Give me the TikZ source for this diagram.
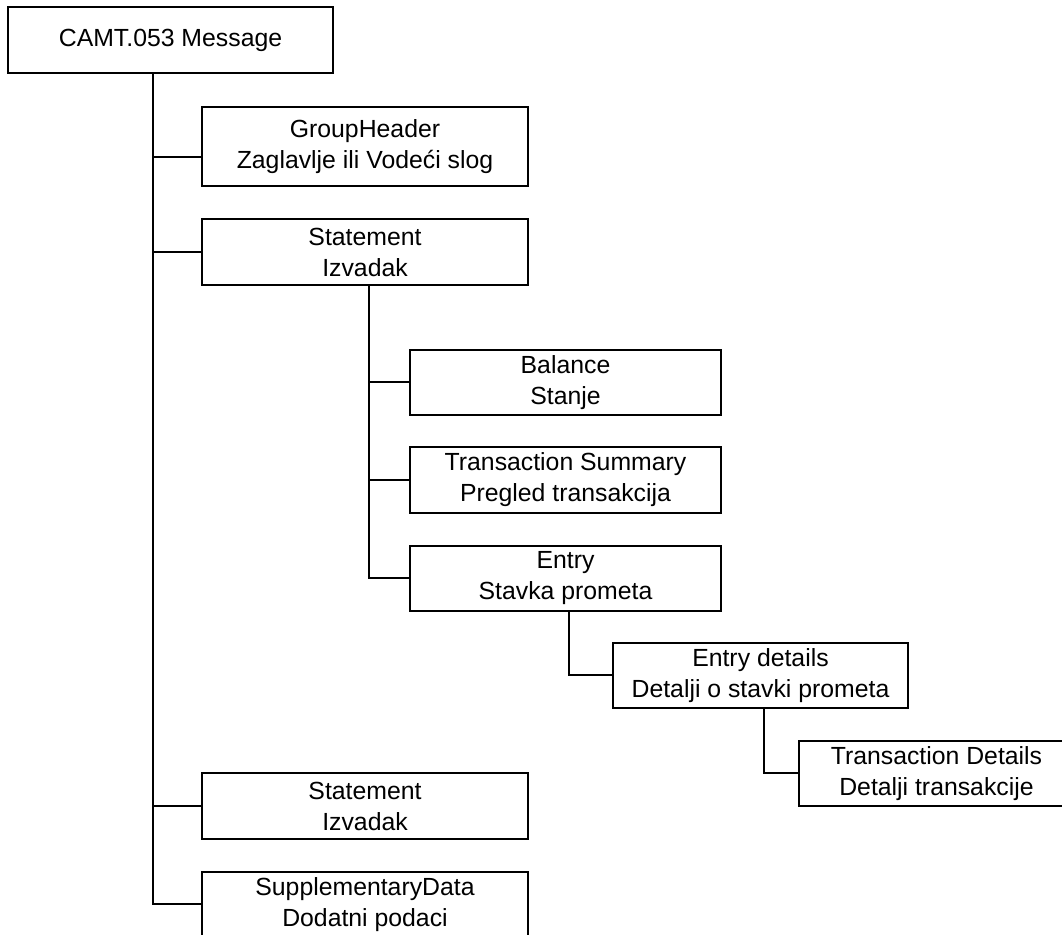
\documentclass[tikz,border=0pt]{standalone}
\usepackage{fontspec}
\setmainfont{Liberation Sans}
\begin{document}
\begin{tikzpicture}[x=0.5pt,y=-0.5pt,
  box/.style={draw=black,line width=1pt,fill=white,inner sep=0pt,align=center,
    font=\fontsize{12.4pt}{15.5pt}\selectfont},
  link/.style={draw=black,line width=1pt,line cap=rect}]
\useasboundingbox (0,0) rectangle (1062,935);
% nodes
\node[box,minimum width=162.5pt,minimum height=33pt] (root) at (170.5,40) {CAMT.053 Message};
\node[box,minimum width=163pt,minimum height=39.5pt] (gh) at (365,146.5) {GroupHeader\\Zaglavlje ili Vodeći slog};
\node[box,minimum width=163pt,minimum height=33pt] (stmt) at (365,252) {Statement\\Izvadak};
\node[box,minimum width=155.5pt,minimum height=32.5pt] (bal) at (565.5,382.5) {Balance\\Stanje};
\node[box,minimum width=155.5pt,minimum height=33pt] (ts) at (565.5,480) {Transaction Summary\\Pregled transakcija};
\node[box,minimum width=155.5pt,minimum height=32.5pt] (entry) at (565.5,578.5) {Entry\\Stavka prometa};
\node[box,minimum width=147.5pt,minimum height=32.5pt] (ed) at (760.5,675.5) {Entry details\\Detalji o stavki prometa};
\node[box,minimum width=137.5pt,minimum height=32.5pt] (td) at (936.5,773.5) {Transaction Details\\Detalji transakcije};
\node[box,minimum width=163pt,minimum height=33pt] (stmt2) at (365,806) {Statement\\Izvadak};
\node[box,minimum width=163pt,minimum height=32.5pt] (supp) at (365,904.5) {SupplementaryData\\Dodatni podaci};
% trunk coordinates
\coordinate (t1) at (153,0);
\coordinate (t2) at (369,0);
\coordinate (t3) at (569,0);
\coordinate (t4) at (764,0);
\coordinate (ghc) at (0,157);
% level 1
\draw[link] (root.south -| t1) -- (t1 |- supp.west);
\draw[link] (t1 |- ghc) -- (gh.west |- ghc);
\draw[link] (t1 |- stmt.west) -- (stmt.west);
\draw[link] (t1 |- stmt2.west) -- (stmt2.west);
\draw[link] (t1 |- supp.west) -- (supp.west);
% level 2
\draw[link] (stmt.south -| t2) -- (t2 |- entry.west);
\draw[link] (t2 |- bal.west) -- (bal.west);
\draw[link] (t2 |- ts.west) -- (ts.west);
\draw[link] (t2 |- entry.west) -- (entry.west);
% level 3
\draw[link] (entry.south -| t3) |- (ed.west);
% level 4
\draw[link] (ed.south -| t4) |- (td.west);
\end{tikzpicture}
\end{document}
